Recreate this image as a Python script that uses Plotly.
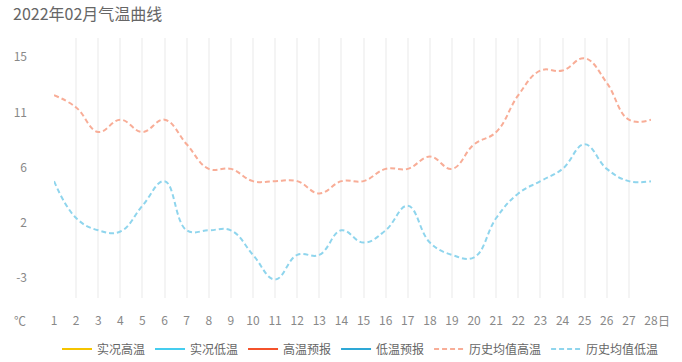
import plotly.graph_objects as go

days = list(range(1, 29))
day_labels = [str(d) for d in days]

actual_high = []
actual_low = []
forecast_high = []
forecast_low = []

hist_high = [12, 11, 9, 10, 9, 10, 8, 6, 6, 5, 5, 5, 4, 5,
             5, 6, 6, 7, 6, 8, 9, 12, 14, 14, 15, 13, 10, 10]
hist_low = [5, 2, 1, 0.9, 3, 5, 1, 1, 1, -1, -3, -1, -1, 1,
            0, 1, 3, 0, -1, -1.2, 2, 4, 5, 6, 8, 6, 5, 5]

y_tick_vals = [15.1, 10.6, 6.1, 1.6, -2.9]
y_tick_text = ["15", "11", "6", "2", "-3"]

FONT = "Noto Sans CJK SC, Microsoft YaHei, sans-serif"

L, R, T, B = 54, 31, 38, 64
W, H = 682, 362
pw = W - L - R
ph = H - T - B

fig = go.Figure()

def add_series(name, ys, color, dash=None):
    xs = days[:len(ys)] if ys else [None]
    yv = ys if ys else [None]
    fig.add_trace(go.Scatter(
        x=xs, y=yv, name=name, mode="lines",
        line=dict(color=color, width=2, dash=dash, shape="spline", smoothing=1.2),
        hoverinfo="skip", showlegend=True,
    ))

add_series("实况高温", actual_high, "#f5c400")
add_series("实况低温", actual_low, "#45cdef")
add_series("高温预报", forecast_high, "#f4522b")
add_series("低温预报", forecast_low, "#2ea8d6")
add_series("历史均值高温", hist_high, "#f8ad97", "5px,3px")
add_series("历史均值低温", hist_low, "#8fd5ed", "5px,3px")

fig.update_layout(
    width=W, height=H,
    margin=dict(l=L, r=R, t=T, b=B, autoexpand=False),
    paper_bgcolor="white", plot_bgcolor="white",
    font=dict(family=FONT, size=12, color="#888"),
    title=dict(text="2022年02月气温曲线", x=13 / W, xref="container", xanchor="left",
               y=1 - 9 / H, yref="container", yanchor="top",
               font=dict(family=FONT, size=16, color="#666")),
    showlegend=True,
    legend=dict(orientation="h", x=(664 - L) / pw, xanchor="right", y=(298 - 349) / ph,
                yanchor="middle",
                font=dict(family=FONT, size=12, color="#666"),
                bgcolor="rgba(0,0,0,0)", itemwidth=30, tracegroupgap=0),
    xaxis=dict(range=[1, 28], tickmode="array", tickvals=days, ticktext=day_labels,
               showgrid=True, gridcolor="#f4f4f4", gridwidth=2,
               zeroline=False, showline=False, ticks="", automargin=False,
               ticklabelstandoff=14,
               tickfont=dict(family=FONT, size=12, color="#888"), fixedrange=True),
    yaxis=dict(range=[-4.51, 16.65], tickmode="array", tickvals=y_tick_vals,
               ticktext=y_tick_text, showgrid=False, zeroline=False, showline=False,
               ticks="", ticklabelstandoff=26, automargin=False,
               tickfont=dict(family=FONT, size=12, color="#888"), fixedrange=True),
    annotations=[
        dict(text="℃", x=(20 - L) / pw, y=(298 - 320) / ph, xref="paper", yref="paper",
             showarrow=False, xanchor="center", yanchor="middle",
             font=dict(family=FONT, size=12, color="#888")),
        dict(text="日", x=(656 - L) / pw, y=(298 - 320) / ph, xref="paper", yref="paper",
             showarrow=False, xanchor="left", yanchor="middle",
             font=dict(family=FONT, size=12, color="#888")),
    ],
)

fig.write_html("out.html", config={"displayModeBar": False, "staticPlot": True},
               post_script="document.body.style.margin='0';document.body.style.padding='0';")
